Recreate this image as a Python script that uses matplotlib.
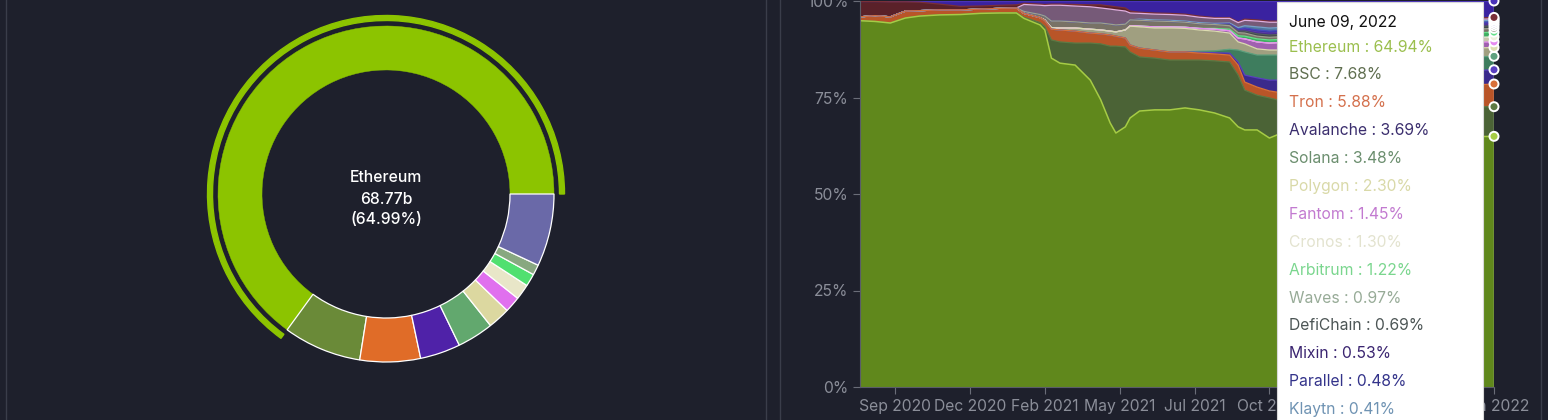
import matplotlib
matplotlib.use('Agg')
import matplotlib.pyplot as plt
import matplotlib.dates as mdates
from matplotlib.patches import Wedge, Rectangle
from matplotlib.transforms import Bbox
import numpy as np
import pandas as pd

plt.rcParams['font.family'] = ['Inter', 'DejaVu Sans']

BG = '#1e202c'

# ---------------- Donut data (current TVL, billions) ----------------
donut_labels = ['Ethereum', 'BSC', 'Tron', 'Avalanche', 'Solana', 'Polygon',
                'Fantom', 'Cronos', 'Arbitrum', 'Waves', 'Others']
donut_values = [68.77, 7.95, 6.15, 4.10, 3.70, 2.25, 1.62, 1.58, 1.28, 1.05, 7.37]
donut_colors = ['#8cc400', '#6a8a38', '#e06c28', '#4f22a8', '#62a86e', '#dcd8a0',
                '#e070ee', '#e8e6c8', '#50e070', '#88a880', '#6a69a8']

# ---------------- Dominance data (% share) ----------------
dates = ['2020-08-09', '2020-08-25', '2020-09-10', '2020-09-26', '2020-10-11', '2020-11-01',
         '2020-11-23', '2020-12-14', '2021-01-04', '2021-01-21', '2021-01-29', '2021-02-15',
         '2021-02-20', '2021-02-27', '2021-03-08', '2021-03-24', '2021-04-09', '2021-04-20',
         '2021-04-30', '2021-05-06', '2021-05-16', '2021-05-21', '2021-05-31', '2021-06-16',
         '2021-07-02', '2021-07-18', '2021-08-02', '2021-08-18', '2021-09-03', '2021-09-12',
         '2021-09-19', '2021-10-02', '2021-10-15', '2021-10-23', '2022-06-01', '2022-06-09']

ethereum = [94.9, 94.7, 94.3, 95.6, 96.1, 96.4, 96.5, 96.8, 96.9, 96.9, 95.5, 93.8,
            92.5, 85.2, 83.9, 83.4, 79.5, 74.4, 68.4, 65.8, 67.4, 69.7, 71.5, 71.8,
            71.8, 72.3, 71.8, 71.0, 69.7, 67.4, 66.6, 66.6, 64.5, 65.3, 64.90, 64.94]
bsc = [0, 0, 0, 0, 0, 0, 0, 0, 0, 0.1, 0.3, 0.6,
       0.9, 4.7, 5.5, 5.7, 9.6, 14.5, 19.9, 22.5, 20.7, 17.1, 14.0, 13.4,
       12.9, 12.4, 12.9, 13.5, 14.5, 13.4, 10.3, 9.0, 10.4, 9.1, 7.70, 7.68]
tron = [1.0, 1.5, 1.6, 1.8, 1.4, 1.3, 1.2, 1.1, 1.2, 1.2, 1.0, 1.3,
        1.5, 2.8, 3.1, 3.1, 2.6, 2.6, 2.9, 2.6, 2.3, 1.8, 2.3, 2.1,
        2.1, 2.1, 1.8, 1.8, 1.8, 2.6, 2.1, 2.1, 1.8, 2.0, 5.80, 5.88]
avalanche = [0] * 26 + [0.2, 0.3, 0.5, 0.8, 1.8, 2.4, 2.8, 3.1, 3.70, 3.69]
solana = [0] * 26 + [0.3, 0.5, 1.0, 3.1, 6.0, 5.9, 6.5, 6.5, 3.50, 3.48]
polygon = [0] * 12 + [0.2, 0.4, 0.5, 0.8, 1.0, 1.0, 1.0, 1.1, 2.1, 4.9, 5.5, 5.7,
                      6.2, 6.1, 5.5, 5.1, 4.2, 2.1, 2.1, 1.6, 1.3, 1.3, 2.30, 2.30]
fantom = [0] * 21 + [0.1, 0.2, 0.3, 0.3, 0.3, 0.4, 0.5, 0.6, 1.0, 1.3, 1.8, 1.8, 1.9, 1.45, 1.45]
cronos = [0] * 34 + [1.30, 1.30]
arbitrum = [0] * 27 + [0.2, 0.4, 0.6, 0.7, 0.8, 0.8, 0.8, 1.20, 1.22]
waves = [0] * 10 + [0.5, 0.8, 1.0, 1.7, 1.8, 1.6, 1.6, 1.8, 1.8, 1.8, 1.5, 1.5,
                    1.5, 1.5, 1.4, 1.3, 1.2, 1.0, 0.9, 0.8, 0.8, 0.7, 0.7, 0.7, 0.97, 0.97]
defichain = [0] * 28 + [0.2, 0.4, 0.5, 0.6, 0.6, 0.6, 0.70, 0.69]
mixin = [0] * 28 + [0.2, 0.3, 0.4, 0.5, 0.5, 0.5, 0.53, 0.53]
parallel = [0] * 29 + [0.2, 0.4, 0.5, 0.5, 0.5, 0.48, 0.48]
klaytn = [0] * 22 + [0.3, 0.3, 0.3, 0.3, 0.3, 0.3, 0.3, 0.4, 0.6, 0.8, 0.8, 0.8, 0.42, 0.41]
terra = [0] * 10 + [1.8, 2.4, 2.7, 4.1, 4.1, 4.1, 4.2, 3.9, 3.9, 3.9, 3.4, 1.8,
                    1.5, 1.5, 1.5, 1.5, 1.4, 1.3, 1.2, 1.3, 1.4, 1.5, 1.5, 1.4, 0.38, 0.38]
eos = [4.0, 3.7, 3.9, 2.4, 2.2, 1.5, 0.9, 0.8, 0.8, 0.8, 0.3, 0.3,
       0.3, 0.3, 0.3, 0.4, 0.5, 0.8, 0.8, 0.8, 0.8, 0.5, 0.3, 0.3,
       0.3, 0.3, 0.3, 0.2, 0.2, 0.2, 0.3, 0.3, 0.3, 0.3, 0.35, 0.35]
others = [0.1, 0.1, 0.2, 0.2, 0.3, 0.8, 1.4, 1.3, 1.1, 1.0, 0.6, 0.8,
          0.9, 0.8, 0.8, 0.9, 1.0, 1.0, 1.3, 1.5, 1.8, 2.6, 2.9, 3.1,
          3.2, 3.4, 3.9, 4.3, 4.3, 5.4, 4.7, 4.9, 5.2, 5.2, 4.32, 4.25]

series_names = ['Ethereum', 'BSC', 'Tron', 'Avalanche', 'Solana', 'Polygon', 'Fantom',
                'Cronos', 'Arbitrum', 'Waves', 'DefiChain', 'Mixin', 'Parallel', 'Klaytn',
                'Terra', 'EOS', 'Others']
series_values = [ethereum, bsc, tron, avalanche, solana, polygon, fantom, cronos, arbitrum,
                 waves, defichain, mixin, parallel, klaytn, terra, eos, others]
fill_colors = ['#60881c', '#4b6336', '#b95528', '#3a2a8c', '#3e7d5e', '#a09f80', '#a060b0',
               '#c8c6ae', '#3fae62', '#787266', '#3d4747', '#42288a', '#3434a0', '#4f7aa0',
               '#765a78', '#5a2129', '#3a22a0']
line_colors = ['#a6cc45', '#5d7a44', '#d8703a', '#5a3fc0', '#5ea07e', '#dcdcb0', '#e58af0',
               '#efefdc', '#66e08a', '#a0a090', '#556060', '#5a3aa8', '#4848c0', '#78a0c8',
               '#e0b0e0', '#7a3038', '#4a32b8']
tooltip_colors = ['#9bbf4e', '#5f6e4f', '#d4704c', '#3b2e6e', '#6b8e6e', '#d9d9a8', '#c27ad0',
                  '#e3e3cf', '#7ad68e', '#97ab97', '#4c5555', '#3a2470', '#33338a', '#6f93b3']

tick_step_days = 79

# ---------------- Figure ----------------
W, H = 1548, 420
fig = plt.figure(figsize=(W / 100, H / 100), dpi=100, facecolor=BG)

# Donut
axd = fig.add_axes([0, 0, 766 / W, 1])
axd.set_facecolor(BG)
cx, cy = 386, H - 194
wedges, _ = axd.pie(donut_values, colors=donut_colors, startangle=0, counterclock=True,
                    radius=168, center=(cx, cy),
                    wedgeprops=dict(width=44, edgecolor='white', linewidth=0.9))
wedges[0].set_edgecolor(donut_colors[0])
wedges[0].set_linewidth(0.3)
total = sum(donut_values)
eth_share = donut_values[0] / total
axd.add_patch(Wedge((cx, cy), 178.5, 0, 360 * eth_share, width=5, color=donut_colors[0]))
axd.set_xlim(0, 766)
axd.set_ylim(0, H)
axd.set_aspect('auto')
axd.axis('off')
fs = 11.3
axd.text(cx, H - 178, donut_labels[0], color='white', ha='center', va='center', fontsize=fs,
         fontweight='medium')
axd.text(cx, H - 199, f'{donut_values[0]:.2f}b', color='white', ha='center', va='center',
         fontsize=fs, fontweight='medium')
axd.text(cx, H - 219, f'({eth_share * 100:.2f}%)', color='white', ha='center', va='center',
         fontsize=fs, fontweight='medium')

# Area chart
x = pd.to_datetime(dates)
ax = fig.add_axes([860 / W, 33 / H, 634 / W, 386 / H])
ax.set_facecolor(BG)
ax.stackplot(x, *series_values, colors=fill_colors, linewidth=0)
cum = np.cumsum(np.array(series_values, dtype=float), axis=0)
for i in range(len(series_values) - 1, -1, -1):
    ax.plot(x, cum[i], color=line_colors[i], lw=0.9 if i else 1.1)
ax.set_xlim(x[0], x[-1])
ax.set_ylim(0, 100)
ax.set_yticks([0, 25, 50, 75, 100])
ax.set_yticklabels([f'{v}%' for v in [0, 25, 50, 75, 100]])
ticks = [x[-1] - pd.Timedelta(days=tick_step_days * k) for k in range(8, -1, -1)]
ax.set_xticks(ticks)
ax.xaxis.set_major_formatter(mdates.DateFormatter('%b %Y'))
ax.tick_params(colors='#6a6d78', labelcolor='#8b8e99', labelsize=fs, length=5, width=0.8)
for s in ['top', 'right']:
    ax.spines[s].set_visible(False)
for s in ['left', 'bottom']:
    ax.spines[s].set_color('#5a5d68')
    ax.spines[s].set_linewidth(0.8)

# cursor + dots
ax.axvline(x[-1], color='#d8d8d8', lw=1, alpha=0.7, zorder=4)
ax.scatter([x[-1]] * len(series_values), cum[:, -1], s=42, c=line_colors,
           edgecolors='white', linewidths=1.4, zorder=6, clip_on=False)

# Tooltip geometry (pixels)
tip_x0, tip_x1 = 1277, 1483

# Tick labels behind the tooltip: hide the covered ones, clip partly covered ones
fig.canvas.draw()
renderer = fig.canvas.get_renderer()
for lab in ax.get_xticklabels():
    bb = lab.get_window_extent(renderer)
    if bb.x0 >= tip_x0 and bb.x1 <= tip_x1:
        lab.set_visible(False)
    elif bb.x0 < tip_x0 < bb.x1:
        lab.set_clip_box(Bbox([[0, 0], [tip_x0, H]]))
        lab.set_clip_on(True)
    elif bb.x0 < tip_x1 < bb.x1:
        lab.set_clip_box(Bbox([[tip_x1, 0], [W, H]]))
        lab.set_clip_on(True)

# Overlay: panel borders and tooltip
axo = fig.add_axes([0, 0, 1, 1], zorder=10)
axo.set_xlim(0, W)
axo.set_ylim(H, 0)
axo.axis('off')
for px in [6, 766, 780, 1541]:
    axo.plot([px, px], [0, H], color='#3a3d4a', lw=1)
axo.add_patch(Rectangle((tip_x0, 2), tip_x1 - tip_x0, 440, facecolor='white',
                        edgecolor='#d8d8d8', lw=0.8))
axo.text(1289, 23, pd.Timestamp(x[-1]).strftime('%B %d, %Y'), color='#111111',
         ha='left', va='center', fontsize=fs)
for k in range(len(tooltip_colors)):
    axo.text(1289, 47 + 27.9 * k, f'{series_names[k]} : {series_values[k][-1]:.2f}%',
             color=tooltip_colors[k], ha='left', va='center', fontsize=fs)

fig.savefig('out.png', dpi=100, facecolor=BG)
